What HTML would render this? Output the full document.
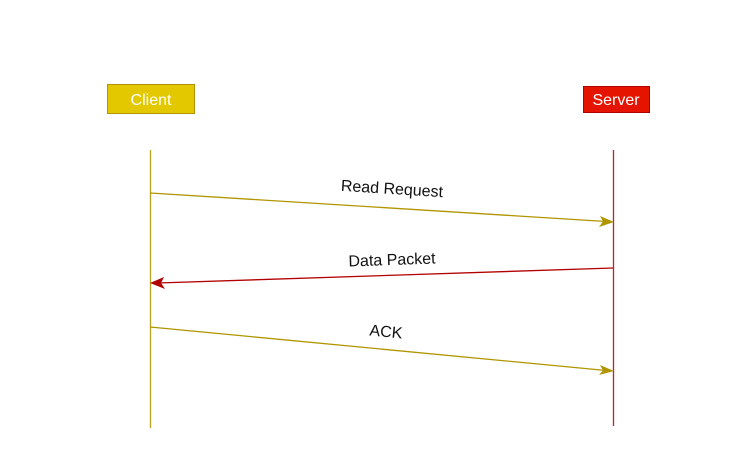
<!DOCTYPE html>
<html><head><style>body{margin:0;background:#fff}</style></head><body>
<svg width="736" height="461" xmlns="http://www.w3.org/2000/svg" font-family="Liberation Sans, sans-serif">
<rect x="0" y="0" width="736" height="461" fill="#fff"/>
<rect x="107.5" y="84.5" width="87" height="29" fill="#e3c800" stroke="#b09500"/>
<text x="151" y="105" font-size="16" fill="#fff" text-anchor="middle">Client</text>
<rect x="583.5" y="86.5" width="66" height="26" fill="#e51400" stroke="#b20000"/>
<text x="616" y="105" font-size="16" fill="#fff" text-anchor="middle">Server</text>
<line x1="150.5" y1="150" x2="150.5" y2="428" stroke="#b8a020" stroke-width="1.3"/>
<line x1="613.5" y1="150" x2="613.5" y2="426" stroke="#c81e1e" stroke-width="1.3"/>
<line x1="150" y1="193" x2="606" y2="221.5" stroke="#b09500" stroke-width="1.3"/>
<polygon points="614,222 599,227 603,221.5 600,216" fill="#b09500"/>
<line x1="613" y1="268" x2="158" y2="283" stroke="#b20000" stroke-width="1.3"/>
<polygon points="150,283 164,277 161,283 165,289" fill="#b20000"/>
<line x1="150" y1="327" x2="606" y2="370.5" stroke="#b09500" stroke-width="1.3"/>
<polygon points="614,371 599,375 603,370.5 600,365" fill="#b09500"/>
<text x="392" y="194" font-size="16" fill="#111" text-anchor="middle" transform="rotate(3.6 392 189)">Read Request</text>
<text x="392" y="265" font-size="16" fill="#111" text-anchor="middle" transform="rotate(-2 392 260)">Data Packet</text>
<text x="386" y="337" font-size="16" fill="#111" text-anchor="middle" transform="rotate(5.4 386 332)">ACK</text>
</svg>
</body></html>
